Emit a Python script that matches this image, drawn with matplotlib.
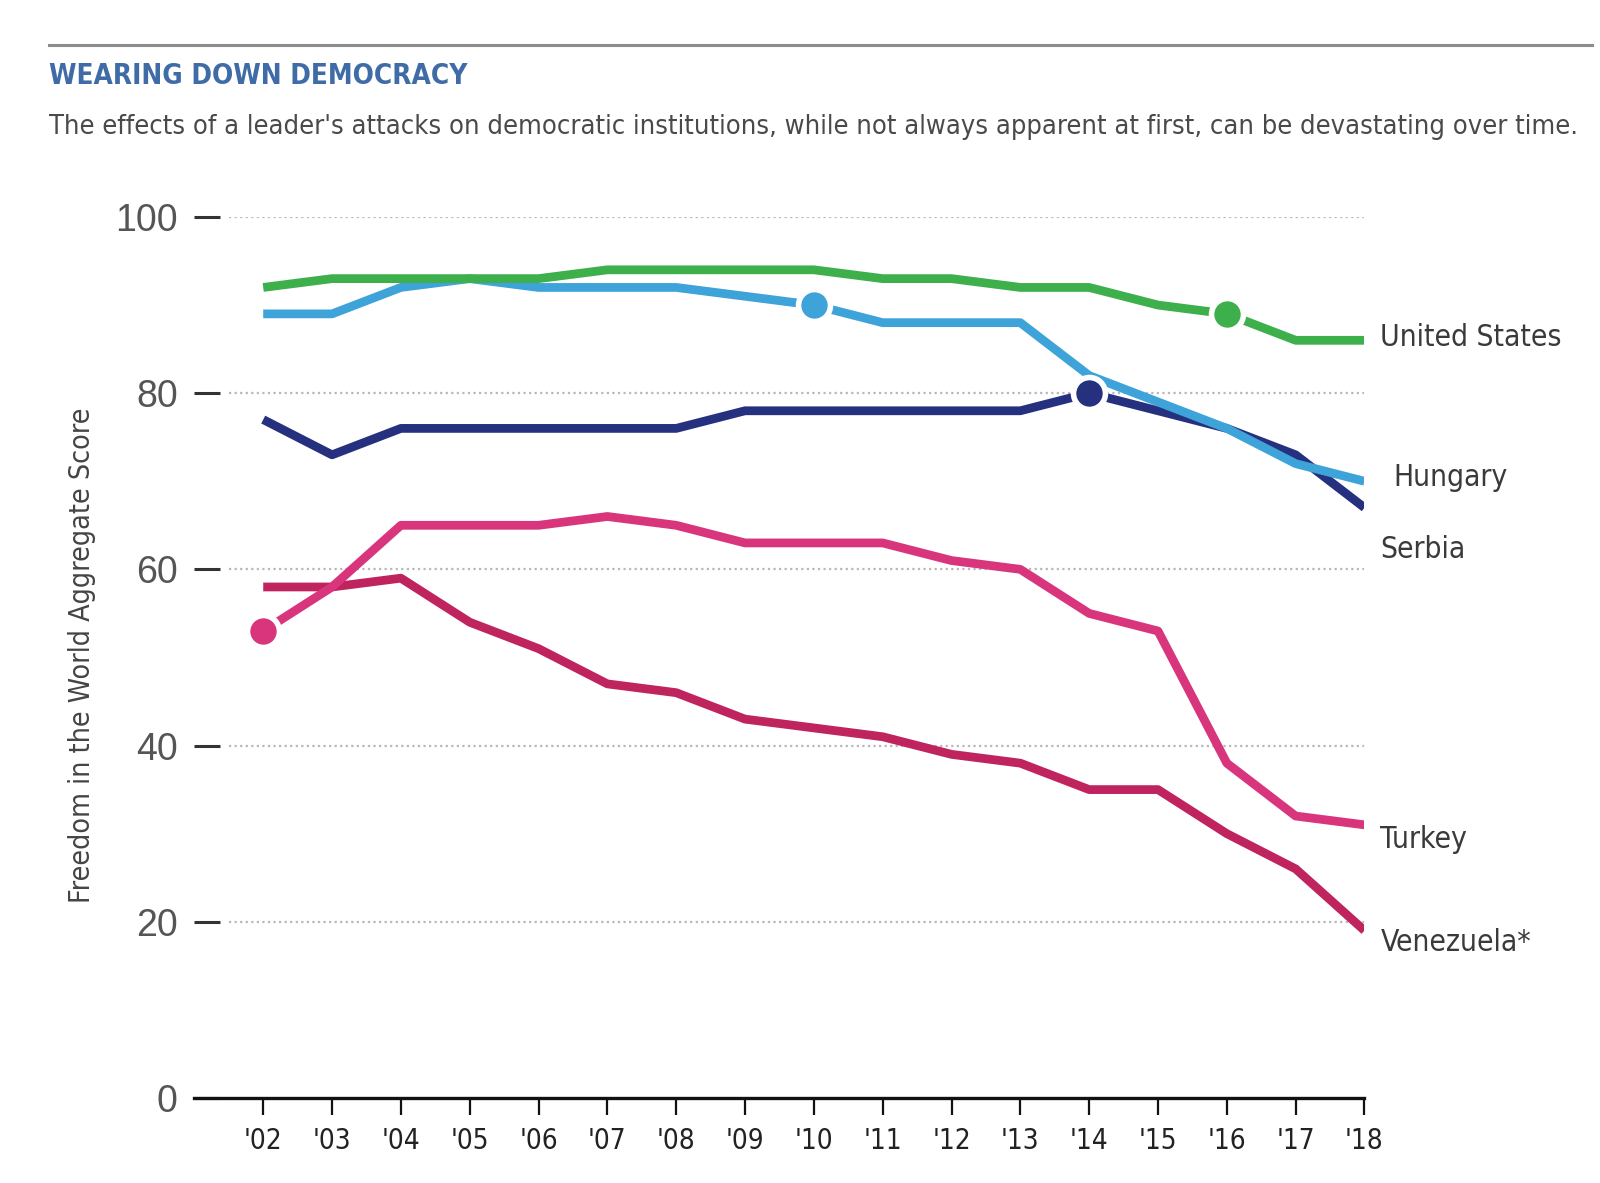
import numpy as np
import matplotlib.pyplot as plt
from matplotlib.lines import Line2D

# Freedom in the World aggregate scores
years = [2002, 2003, 2004, 2005, 2006, 2007, 2008, 2009, 2010,
         2011, 2012, 2013, 2014, 2015, 2016, 2017, 2018]
year_labels = ["'02", "'03", "'04", "'05", "'06", "'07", "'08", "'09", "'10",
               "'11", "'12", "'13", "'14", "'15", "'16", "'17", "'18"]

united_states = [92, 93, 93, 93, 93, 94, 94, 94, 94, 93, 93, 92, 92, 90, 89, 86, 86]
hungary = [89, 89, 92, 93, 92, 92, 92, 91, 90, 88, 88, 88, 82, 79, 76, 72, 70]
serbia = [77, 73, 76, 76, 76, 76, 76, 78, 78, 78, 78, 78, 80, 78, 76, 73, 67]
turkey = [53, 58, 65, 65, 65, 66, 65, 63, 63, 63, 61, 60, 55, 53, 38, 32, 31]
venezuela = [58, 58, 59, 54, 51, 47, 46, 43, 42, 41, 39, 38, 35, 35, 30, 26, 19]

names = ['Venezuela*', 'Turkey', 'Serbia', 'Hungary', 'United States']
series = [venezuela, turkey, serbia, hungary, united_states]
colors = ['#c0245e', '#d8357c', '#25307f', '#3ea3d9', '#3daf4b']
# year where the leader's attacks began (dot on the line)
event_year = [None, 2002, 2014, 2010, 2016]

yticks = [0, 20, 40, 60, 80, 100]

narrow = ['DejaVu Sans']   # used with stretch='condensed'

fig = plt.figure(figsize=(16, 11.83), dpi=100)
ax = fig.add_axes([0.1215, 0.0719, 0.7313, 0.7447])

# dotted grid lines
ax.hlines(yticks[1:], 2001.5, 2018, colors='#b8b8b8', linestyles=(0, (1, 1.5)),
          linewidth=1.6, zorder=1)

for name, vals, c, ev in zip(names, series, colors, event_year):
    ax.plot(years, vals, color=c, lw=6.3, zorder=3, solid_capstyle='butt')
    if ev is not None:
        i = years.index(ev)
        ax.plot(years[i], vals[i], 'o', ms=23, mfc=c, mec='white', mew=4, zorder=4)

# series labels at right
label_pos = {'United States': (2018.23, 86.3), 'Hungary': (2018.42, 70.4),
             'Serbia': (2018.23, 62.2), 'Turkey': (2018.23, 29.3),
             'Venezuela*': (2018.23, 17.7)}
for name in names:
    x, y = label_pos[name]
    ax.text(x, y, name, fontsize=21.5, color='#3a3a3a', family=narrow, stretch='condensed',
            va='center', ha='left', clip_on=False)

ax.set_xlim(2001, 2018)
ax.set_ylim(0, 100)
ax.set_xticks(years)
ax.set_xticklabels(year_labels, family=narrow, stretch='condensed', fontsize=20,
                   fontweight='medium', color='#222222')
ax.set_yticks(yticks)
ax.set_yticklabels([str(v) for v in yticks], family=['Liberation Sans', 'DejaVu Sans'],
                   fontsize=27, color='#555555')

ax.tick_params(axis='x', direction='out', length=12, width=1.6, color='#111111', pad=9)
ax.tick_params(axis='y', direction='in', length=19, width=2.2, color='#333333', pad=12)

for s in ['top', 'right', 'left']:
    ax.spines[s].set_visible(False)
ax.spines['bottom'].set_linewidth(2.4)
ax.spines['bottom'].set_color('#111111')

fig.text(0.051, 0.446, 'Freedom in the World Aggregate Score', rotation=90,
         fontsize=20.5, color='#444444', family=narrow, stretch='condensed', ha='center', va='center')

# header
fig.add_artist(Line2D([0.0306, 0.995], [0.962, 0.962], color='#8c8c8c', lw=2.2))
fig.text(0.0306, 0.936, 'WEARING DOWN DEMOCRACY', fontsize=20, fontweight='bold',
         color='#3f6ca6', family=narrow, stretch='condensed', ha='left', va='center')
fig.text(0.0306, 0.893,
         "The effects of a leader's attacks on democratic institutions, while not always apparent at first, can be devastating over time.",
         fontsize=19.5, color='#4a4a4a', family=narrow, stretch='condensed', ha='left', va='center')

fig.savefig('out.png', dpi=100, facecolor='white')
